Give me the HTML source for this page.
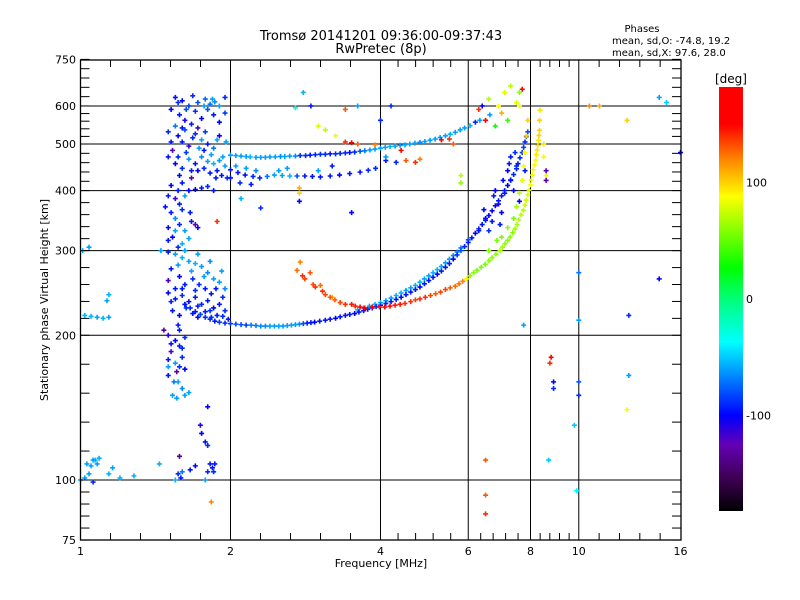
<!DOCTYPE html>
<html><head><meta charset="utf-8"><style>
body{margin:0;background:#fff;}
svg{display:block;font-family:"DejaVu Sans","Liberation Sans",sans-serif;}
</style></head><body>
<svg id="chart" width="800" height="600" xmlns="http://www.w3.org/2000/svg">
<rect width="800" height="600" fill="#fff"/>
<text x="381" y="40" font-size="13" text-anchor="middle">Tromsø 20141201 09:36:00-09:37:43</text>
<text x="381" y="53" font-size="13" text-anchor="middle">RwPretec (8p)</text>
<text x="642" y="32" font-size="10" text-anchor="middle">Phases</text>
<text x="612" y="44" font-size="10">mean, sd,O: -74.8, 19.2</text>
<text x="612" y="56" font-size="10">mean, sd,X:  97.6, 28.0</text>
<text x="0" y="0" font-size="11" text-anchor="middle" transform="translate(48,300) rotate(-90)">Stationary phase Virtual Height [km]</text>
<text x="381" y="567" font-size="11" text-anchor="middle">Frequency [MHz]</text>
<g id="grid"></g><g id="marks"></g><g id="axes"></g>
<defs><linearGradient id="cb" x1="0" y1="1" x2="0" y2="0"></linearGradient></defs>
<rect x="719" y="87" width="24" height="424" fill="url(#cb)"/>
<text x="731" y="83" font-size="12" text-anchor="middle">[deg]</text>
<g id="cbticks"></g>
</svg>
<script>
const xMajors=[1,2,4,6,8,10,16];
const xGrid=[2,4,6,8,10];
const yMajors=[75,100,200,300,400,500,600,750];
const yGrid=[100,200,300,400,500,600];
const cbTicks=[100,0,-100];
// [freq MHz, height km, phase deg]
const traceO=[[1.62,232,-95],[1.7,224,-95],[1.78,218,-90],[1.86,214,-95],[1.95,212,-90],[2.05,211,-80],[2.15,210,-85],[2.25,209.5,-70],[2.35,209,-65],[2.45,209,-60],[2.55,209,-60],[2.65,210,-60],[2.75,211,-65],[2.85,212,-95],[2.95,213,-100],[3.1,215,-95],[3.25,217,-100],[3.4,220,-95],[3.55,222,-100],[3.7,225,-95],[3.85,228,-90],[4.0,231,-95],[4.2,235,-95],[4.4,240,-100],[4.6,246,-95],[4.8,252,-100],[5.0,260,-95],[5.2,268,-100],[5.4,277,-95],[5.6,288,-100],[5.8,300,-80],[6.0,312,-95],[6.2,326,-100],[6.4,340,-95],[6.6,355,-100],[6.8,372,-105],[7.0,390,-95],[7.2,410,-100],[7.4,432,-90],[7.55,455,-95],[7.7,480,-85],[7.8,505,-90],[7.9,530,-80]];
const traceO2=[[1.66,228,-90],[1.74,221,-85],[1.82,216,-90],[1.9,213,-85],[2.0,211.5,-85],[2.1,210.5,-80],[2.2,210,-70],[2.3,209,-65],[2.4,209,-60],[2.5,209,-60],[2.6,209.5,-60],[2.7,210.5,-62],[2.8,211.5,-80],[2.9,212.5,-95],[3.02,214,-95],[3.17,216,-95],[3.32,218.5,-95],[3.47,221,-95],[3.62,223.5,-95],[3.77,226.5,-90],[3.92,229.5,-90],[4.1,233,-90],[4.3,237.5,-95],[4.5,243,-95],[4.7,249,-95],[4.9,256,-95],[5.1,264,-95],[5.3,272,-95],[5.5,282,-95],[5.7,294,-90],[5.9,306,-90],[6.1,319,-95],[6.3,333,-95],[6.5,347,-95],[6.7,363,-100],[6.9,381,-95],[7.1,400,-95],[7.3,421,-95],[7.5,444,-90],[7.62,468,-90],[7.75,492,-85],[7.85,518,-85]];
const traceOb=[[3.6,226,-55],[3.8,230,-60],[4.0,234,-55],[4.2,239,-60],[4.4,245,-55],[4.6,251,-60],[4.8,258,-55],[5.0,266,-60],[5.2,274,-55],[5.4,283,-60],[5.6,293,-65],[5.8,304,-70],[6.0,316,-80],[6.3,330,-95],[6.5,350,-100],[6.7,345,-95],[6.9,375,-105],[7.1,395,-95],[6.8,400,-100],[7.3,420,-95],[7.0,360,-100],[7.5,450,-90],[7.3,470,-95],[7.6,380,-100],[7.8,440,-95],[6.6,330,-90],[7.2,440,-100],[3.7,228,-60],[3.9,232,-55],[4.1,236,-60],[4.3,242,-55],[4.5,248,-60],[4.7,254,-55],[4.9,262,-60],[5.1,270,-55],[5.3,278,-60],[5.5,288,-60],[5.7,298,-65],[6.45,365,-100],[6.75,390,-95],[7.05,420,-100],[7.25,455,-95],[7.45,480,-90],[6.95,340,-95],[7.4,400,-100]];
const traceX=[[2.72,273,125],[2.82,262,135],[2.96,252,140],[3.1,243,135],[3.24,237,130],[3.4,232,140],[3.56,230,145],[3.72,228,150],[2.76,284,120],[2.89,270,130],[3.03,254,125],[3.2,240,110],[3.5,232,145],[4.08,229,150],[4.28,231,145],[4.48,233,140],[4.7,237,135],[4.92,240,140],[5.16,244,130],[5.4,249,135],[5.65,253,125],[5.85,259,120],[6.05,266,60],[6.25,273,55],[6.49,281,55],[6.7,290,60],[6.95,300,65],[7.11,310,60],[7.28,320,60],[7.45,333,65],[7.58,348,70],[7.74,364,70],[7.84,382,75],[7.95,401,80],[8.03,421,85],[8.1,442,90],[8.2,463,90],[8.25,486,95],[8.3,509,95],[8.34,534,100],[8.34,560,100],[8.36,588,95],[7.0,320,55],[7.2,335,60],[7.4,350,55],[7.5,370,65],[7.6,395,70],[7.7,420,80],[7.75,450,85],[7.8,480,90],[7.85,520,100],[7.9,560,100],[8.5,470,90],[8.5,500,95],[8.6,430,85],[6.6,300,60],[6.85,315,55],[2.79,266,140],[2.93,255,135],[3.06,247,140],[3.17,240,130],[3.32,234,135],[3.64,229,150],[3.85,229,150],[3.98,229,145],[4.18,230,150],[4.38,232,145],[4.6,235,140],[4.8,238,140],[5.04,242,135],[5.28,246,135],[5.52,251,130],[5.75,256,125],[5.95,262,90],[6.15,270,60],[6.37,277,55],[6.6,286,60],[6.82,295,60],[7.03,305,65],[7.2,315,60],[7.37,327,60],[7.52,340,65],[7.66,356,70],[7.8,373,75],[7.9,392,80],[8.0,411,85],[8.07,431,85],[8.15,452,90],[8.22,475,95],[8.28,497,95],[8.32,521,100]];
const traceF=[[2.0,474,-60],[2.1,472,-60],[2.19,470,-55],[2.3,469,-60],[2.4,470,-60],[2.52,471,-65],[2.63,472,-60],[2.76,473,-90],[2.89,474,-95],[3.03,476,-90],[3.17,477,-95],[3.32,478,-90],[3.47,480,-95],[3.64,483,-80],[3.81,486,-60],[4.0,490,-60],[4.18,494,-55],[4.38,497,-60],[4.58,500,-60],[4.8,504,-65],[5.03,509,-60],[5.27,516,-60],[5.52,524,-55],[5.78,535,-60],[6.05,546,-55],[6.33,560,-60],[6.63,575,-60],[2.0,442,-95],[2.14,431,-95],[2.29,425,-90],[2.45,431,-60],[2.63,429,-55],[2.82,429,-95],[3.03,427,-95],[3.31,431,-100],[3.64,437,-95],[3.91,445,-90],[2.0,425,-95],[2.09,415,-90],[2.2,412,-95],[2.5,440,-60],[2.6,445,-60],[3.0,440,-60],[3.2,450,-95],[4.1,462,-95],[4.3,458,-90],[4.1,470,-60],[2.05,473,-60],[2.15,471,-60],[2.25,469,-60],[2.35,469,-60],[2.46,470,-60],[2.57,471,-60],[2.7,472,-65],[2.83,473,-90],[2.96,475,-90],[3.1,476,-90],[3.25,477,-90],[3.4,479,-90],[3.55,481,-90],[3.72,484,-70],[3.9,488,-60],[4.09,492,-60],[4.28,495,-60],[4.48,498,-60],[4.69,502,-60],[4.91,506,-60],[5.15,512,-60],[5.4,520,-60],[5.65,529,-60],[5.9,540,-60],[2.07,436,-95],[2.22,428,-90],[2.37,428,-70],[2.54,430,-60],[2.72,429,-80],[2.92,428,-95],[3.17,429,-95],[3.47,434,-95],[3.78,441,-90],[2.05,450,-60],[2.15,445,-60],[2.25,440,-65]];
const traceMisc=[[3.4,505,140],[3.5,503,150],[3.6,500,130],[3.9,498,120],[5.3,510,150],[5.5,512,140],[5.6,500,130],[4.4,485,150],[4.5,462,130],[4.7,458,140],[4.8,465,120],[3.0,545,80],[3.1,535,70],[3.25,520,90],[6.6,620,70],[6.9,600,90],[7.1,640,80],[7.3,660,70],[7.0,580,110],[7.5,610,80],[7.6,640,60],[6.3,590,140],[6.5,560,150],[7.2,560,40],[6.8,545,30],[6.2,555,-90],[6.4,600,-100],[7.7,650,150],[7.6,600,90],[10,270,-70],[10,215,-60],[10,160,-80],[9.8,130,-50],[9.9,95,-40],[10,150,-90],[12.6,220,-90],[12.6,165,-60],[12.5,140,90],[14.5,262,-100],[14.5,625,-60],[16,480,-100],[8.8,180,150],[8.75,175,140],[8.9,160,-100],[8.9,155,-90],[8.7,110,-50],[7.75,210,-60],[6.5,110,130],[6.5,93,130],[6.5,85,140],[8.6,420,-130],[8.6,440,-120],[10.5,600,120],[11,600,110],[12.5,560,100],[15,610,-50],[2.8,640,-55],[2.7,595,-40],[2.9,600,-95],[3.4,590,130],[3.6,600,-60],[2.75,395,100],[2.75,405,110],[2.75,380,-100],[4.2,600,-90],[4.0,560,-90],[3.5,360,-100],[2.1,385,-55],[2.3,368,-90],[1.88,345,140],[5.8,415,60],[5.8,430,70]];
const cluster=[[1.55,625,-95],[1.6,615,-100],[1.68,630,-90],[1.72,610,-80],[1.78,620,-75],[1.82,605,-70],[1.86,612,-65],[1.9,600,-60],[1.95,625,-90],[1.65,600,-85],[1.52,590,-100],[1.58,575,-95],[1.62,560,-110],[1.7,585,-90],[1.75,565,-100],[1.8,590,-80],[1.85,575,-95],[1.9,555,-100],[1.55,545,-70],[1.67,550,-95],[1.72,540,-120],[1.95,580,-85],[1.5,530,-90],[1.57,520,-100],[1.6,505,-95],[1.65,495,-110],[1.7,525,-90],[1.75,510,-60],[1.8,500,-95],[1.85,490,-70],[1.9,520,-100],[1.96,505,-60],[1.53,485,-120],[1.62,535,-80],[1.77,485,-95],[1.5,470,-95],[1.55,455,-100],[1.6,445,-90],[1.65,465,-60],[1.7,455,-95],[1.75,470,-65],[1.8,460,-60],[1.85,455,-55],[1.9,462,-60],[1.95,450,-60],[1.72,440,-100],[1.82,435,-95],[1.88,440,-95],[1.92,430,-95],[1.97,425,-90],[1.58,430,-100],[1.67,425,-130],[1.52,410,-100],[1.57,400,-95],[1.62,390,-60],[1.7,402,-100],[1.75,405,-95],[1.8,408,-90],[1.85,400,-95],[1.55,385,-120],[1.48,370,-100],[1.52,360,-95],[1.55,350,-65],[1.58,340,-90],[1.62,330,-60],[1.53,320,-100],[1.6,310,-55],[1.66,360,-95],[1.7,340,-130],[1.5,335,-100],[1.58,375,-95],[1.65,318,-60],[1.72,335,-100],[1.57,305,-90],[1.45,300,-60],[1.5,298,-95],[1.55,295,-60],[1.6,290,-55],[1.65,285,-60],[1.7,282,-55],[1.75,278,-60],[1.8,270,-65],[1.85,262,-60],[1.9,258,-60],[1.52,275,-95],[1.58,265,-100],[1.62,255,-95],[1.68,262,-90],[1.73,255,-90],[1.78,250,-95],[1.95,250,-65],[1.5,260,-120],[1.55,250,-95],[1.5,245,-100],[1.55,238,-95],[1.6,242,-90],[1.65,235,-100],[1.7,240,-95],[1.75,232,-90],[1.8,236,-95],[1.85,228,-100],[1.9,232,-95],[1.95,225,-90],[1.53,225,-95],[1.58,220,-100],[1.63,228,-90],[1.68,222,-95],[1.72,218,-100],[1.78,224,-95],[1.83,218,-90],[1.88,220,-95],[1.93,219,-90],[1.98,216,-95],[1.47,205,-130],[1.5,200,-110],[1.55,195,-100],[1.58,190,-95],[1.52,185,-120],[1.6,180,-90],[1.55,175,-60],[1.62,170,-100],[1.5,165,-95],[1.57,160,-60],[1.6,155,-65],[1.53,150,-60],[1.65,152,-60],[1.56,168,-130],[1.62,198,-90],[1.5,178,-95],[1.75,125,-100],[1.78,120,-95],[1.8,118,-90],[1.74,130,-110],[1.8,142,-100],
[1.57,610,-90],[1.63,590,-80],[1.77,600,-60],[1.84,620,-60],[1.6,540,-95],[1.68,515,-90],[1.78,530,-85],[1.88,510,-60],[1.52,505,-95],[1.63,480,-85],[1.73,490,-60],[1.83,475,-60],[1.93,470,-60],[1.57,470,-90],[1.67,440,-95],[1.77,445,-90],[1.87,425,-95],[1.6,415,-95],[1.65,400,-100],[1.5,390,-95],[1.6,365,-90],[1.55,330,-60],[1.67,345,-95],[1.5,315,-95],[1.62,300,-60],[1.72,295,-60],[1.82,285,-65],[1.92,272,-60],[1.57,280,-60],[1.67,272,-60],[1.77,265,-60],[1.87,250,-95],[1.6,250,-95],[1.7,248,-90],[1.83,244,-95],[1.93,240,-90],[1.52,235,-95],[1.62,232,-90],[1.72,230,-95],[1.82,225,-90],[1.57,210,-95],[1.52,192,-95],[1.6,188,-90],[1.54,160,-70],[1.58,172,-90],[1.62,150,-60],[1.56,148,-60],[1.5,172,-60],[1.58,205,-95]];
const lowEchoes=[[1.02,101,-60],[1.04,103,-60],[1.05,107,-60],[1.07,110,-55],[1.09,111,-55],[1.06,99,-90],[1.14,103,-55],[1.16,106,-60],[1.2,101,-55],[1.28,102,-55],[1.44,108,-55],[1.55,100,-55],[1.57,103,-90],[1.59,101,-95],[1.66,105,-95],[1.7,107,-100],[1.78,100,-60],[1.8,104,-90],[1.84,106,-95],[1.82,108,-95],[1.58,112,-140],[1.0,100,-60],[1.83,90,120],[1.02,220,-55],[1.05,219,-55],[1.08,218,-60],[1.11,217,-55],[1.14,218,-60],[1.13,236,-60],[1.14,243,-55],[1.01,300,-55],[1.04,305,-60],[1.03,108,-60],[1.06,110,-60],[1.08,108,-60],[1.85,104,-90],[1.86,108,-95],[1.6,104,-70]];
const cmapVals=[-182,-155,-125,-100,-70,-37,0,27,88,118,150,182];
const cmapCols=[[0,0,0],[60,0,80],[100,0,180],[0,0,255],[0,120,255],[0,255,255],[0,255,120],[0,255,0],[255,255,0],[255,140,0],[255,0,0],[255,0,0]];

const NS='http://www.w3.org/2000/svg';
const X0=80.5,XS=150,Y0=480,YS=144.7,L=80.5,R=681,T=60,B=540;
const xs=f=>X0+XS*Math.log2(f);
const ys=h=>Y0-YS*Math.log2(h/100);
function mk(t,a,p){const e=document.createElementNS(NS,t);for(const k in a)e.setAttribute(k,a[k]);p.appendChild(e);return e;}
function col(v){v=Math.max(-182,Math.min(182,v));for(let i=0;i<cmapVals.length-1;i++){if(v<=cmapVals[i+1]){const t=(v-cmapVals[i])/(cmapVals[i+1]-cmapVals[i]);const a=cmapCols[i],b=cmapCols[i+1];return 'rgb('+a.map((c,j)=>Math.round(c+(b[j]-c)*t)).join(',')+')';}}return 'rgb(255,0,0)';}
const grid=document.getElementById('grid'),axes=document.getElementById('axes'),marks=document.getElementById('marks');
xGrid.forEach(f=>{const l=mk('line',{x1:xs(f),x2:xs(f),y1:T,y2:B,stroke:'#000','stroke-width':1},grid);

});
yGrid.forEach(h=>{const l=mk('line',{x1:L,x2:R,y1:ys(h),y2:ys(h),stroke:'#000','stroke-width':1},grid);

});
const fr=mk('rect',{x:L,y:T,width:R-L,height:B-T,fill:'none',stroke:'#000','stroke-width':1.3},axes);


for(let i=0;i<xMajors.length;i++){const px=xs(xMajors[i]);
const t=mk('text',{x:px,y:555,'font-size':11,'text-anchor':'middle'},axes);t.textContent=xMajors[i];


if(i<xMajors.length-1){const nx=xs(xMajors[i+1]);for(let k=1;k<5;k++){const mx=px+(nx-px)*k/5;
mk('line',{x1:mx,x2:mx,y1:B,y2:B-7,stroke:'#000'},axes);mk('line',{x1:mx,x2:mx,y1:T,y2:T+7,stroke:'#000'},axes);}}}
for(let i=0;i<yMajors.length;i++){const py=ys(yMajors[i]);
const t=mk('text',{x:76,y:py+4,'font-size':11,'text-anchor':'end'},axes);t.textContent=yMajors[i];


mk('line',{x1:L,x2:L+9,y1:py,y2:py,stroke:'#000'},axes);mk('line',{x1:R,x2:R-9,y1:py,y2:py,stroke:'#000'},axes);
if(i<yMajors.length-1){const ny=ys(yMajors[i+1]);for(let k=1;k<5;k++){const my=py+(ny-py)*k/5;
mk('line',{x1:L,x2:L+9,y1:my,y2:my,stroke:'#000'},axes);mk('line',{x1:R,x2:R-9,y1:my,y2:my,stroke:'#000'},axes);}}}
function draw(arr,name){arr.forEach(d=>{const x=xs(d[0]),y=ys(d[1]);const c=col(d[2]);
const p=mk('path',{d:'M'+(x-2.5)+' '+y+'h5M'+x+' '+(y-2.5)+'v5',stroke:c,'stroke-width':1.6,fill:'none'},marks);

});}
draw(cluster,'echo-spread-f-cluster');draw(lowEchoes,'echo-low');draw(traceF,'echo-f-upper-trace');
draw(traceOb,'echo-o-branch');draw(traceO,'echo-o-trace');draw(traceO2,'echo-o-trace');draw(traceX,'echo-x-trace');draw(traceMisc,'echo-scatter');
const st=document.getElementById('cb');
cmapVals.forEach((v,i)=>{mk('stop',{offset:((v+182)/364*100)+'%','stop-color':'rgb('+cmapCols[i].join(',')+')'},st);});
const cbt=document.getElementById('cbticks');
cbTicks.forEach(v=>{const y=511-(v+182)/364*424;const t=mk('text',{x:746,y:y+4,'font-size':11},cbt);t.textContent=v;

});
</script>
</body></html>
